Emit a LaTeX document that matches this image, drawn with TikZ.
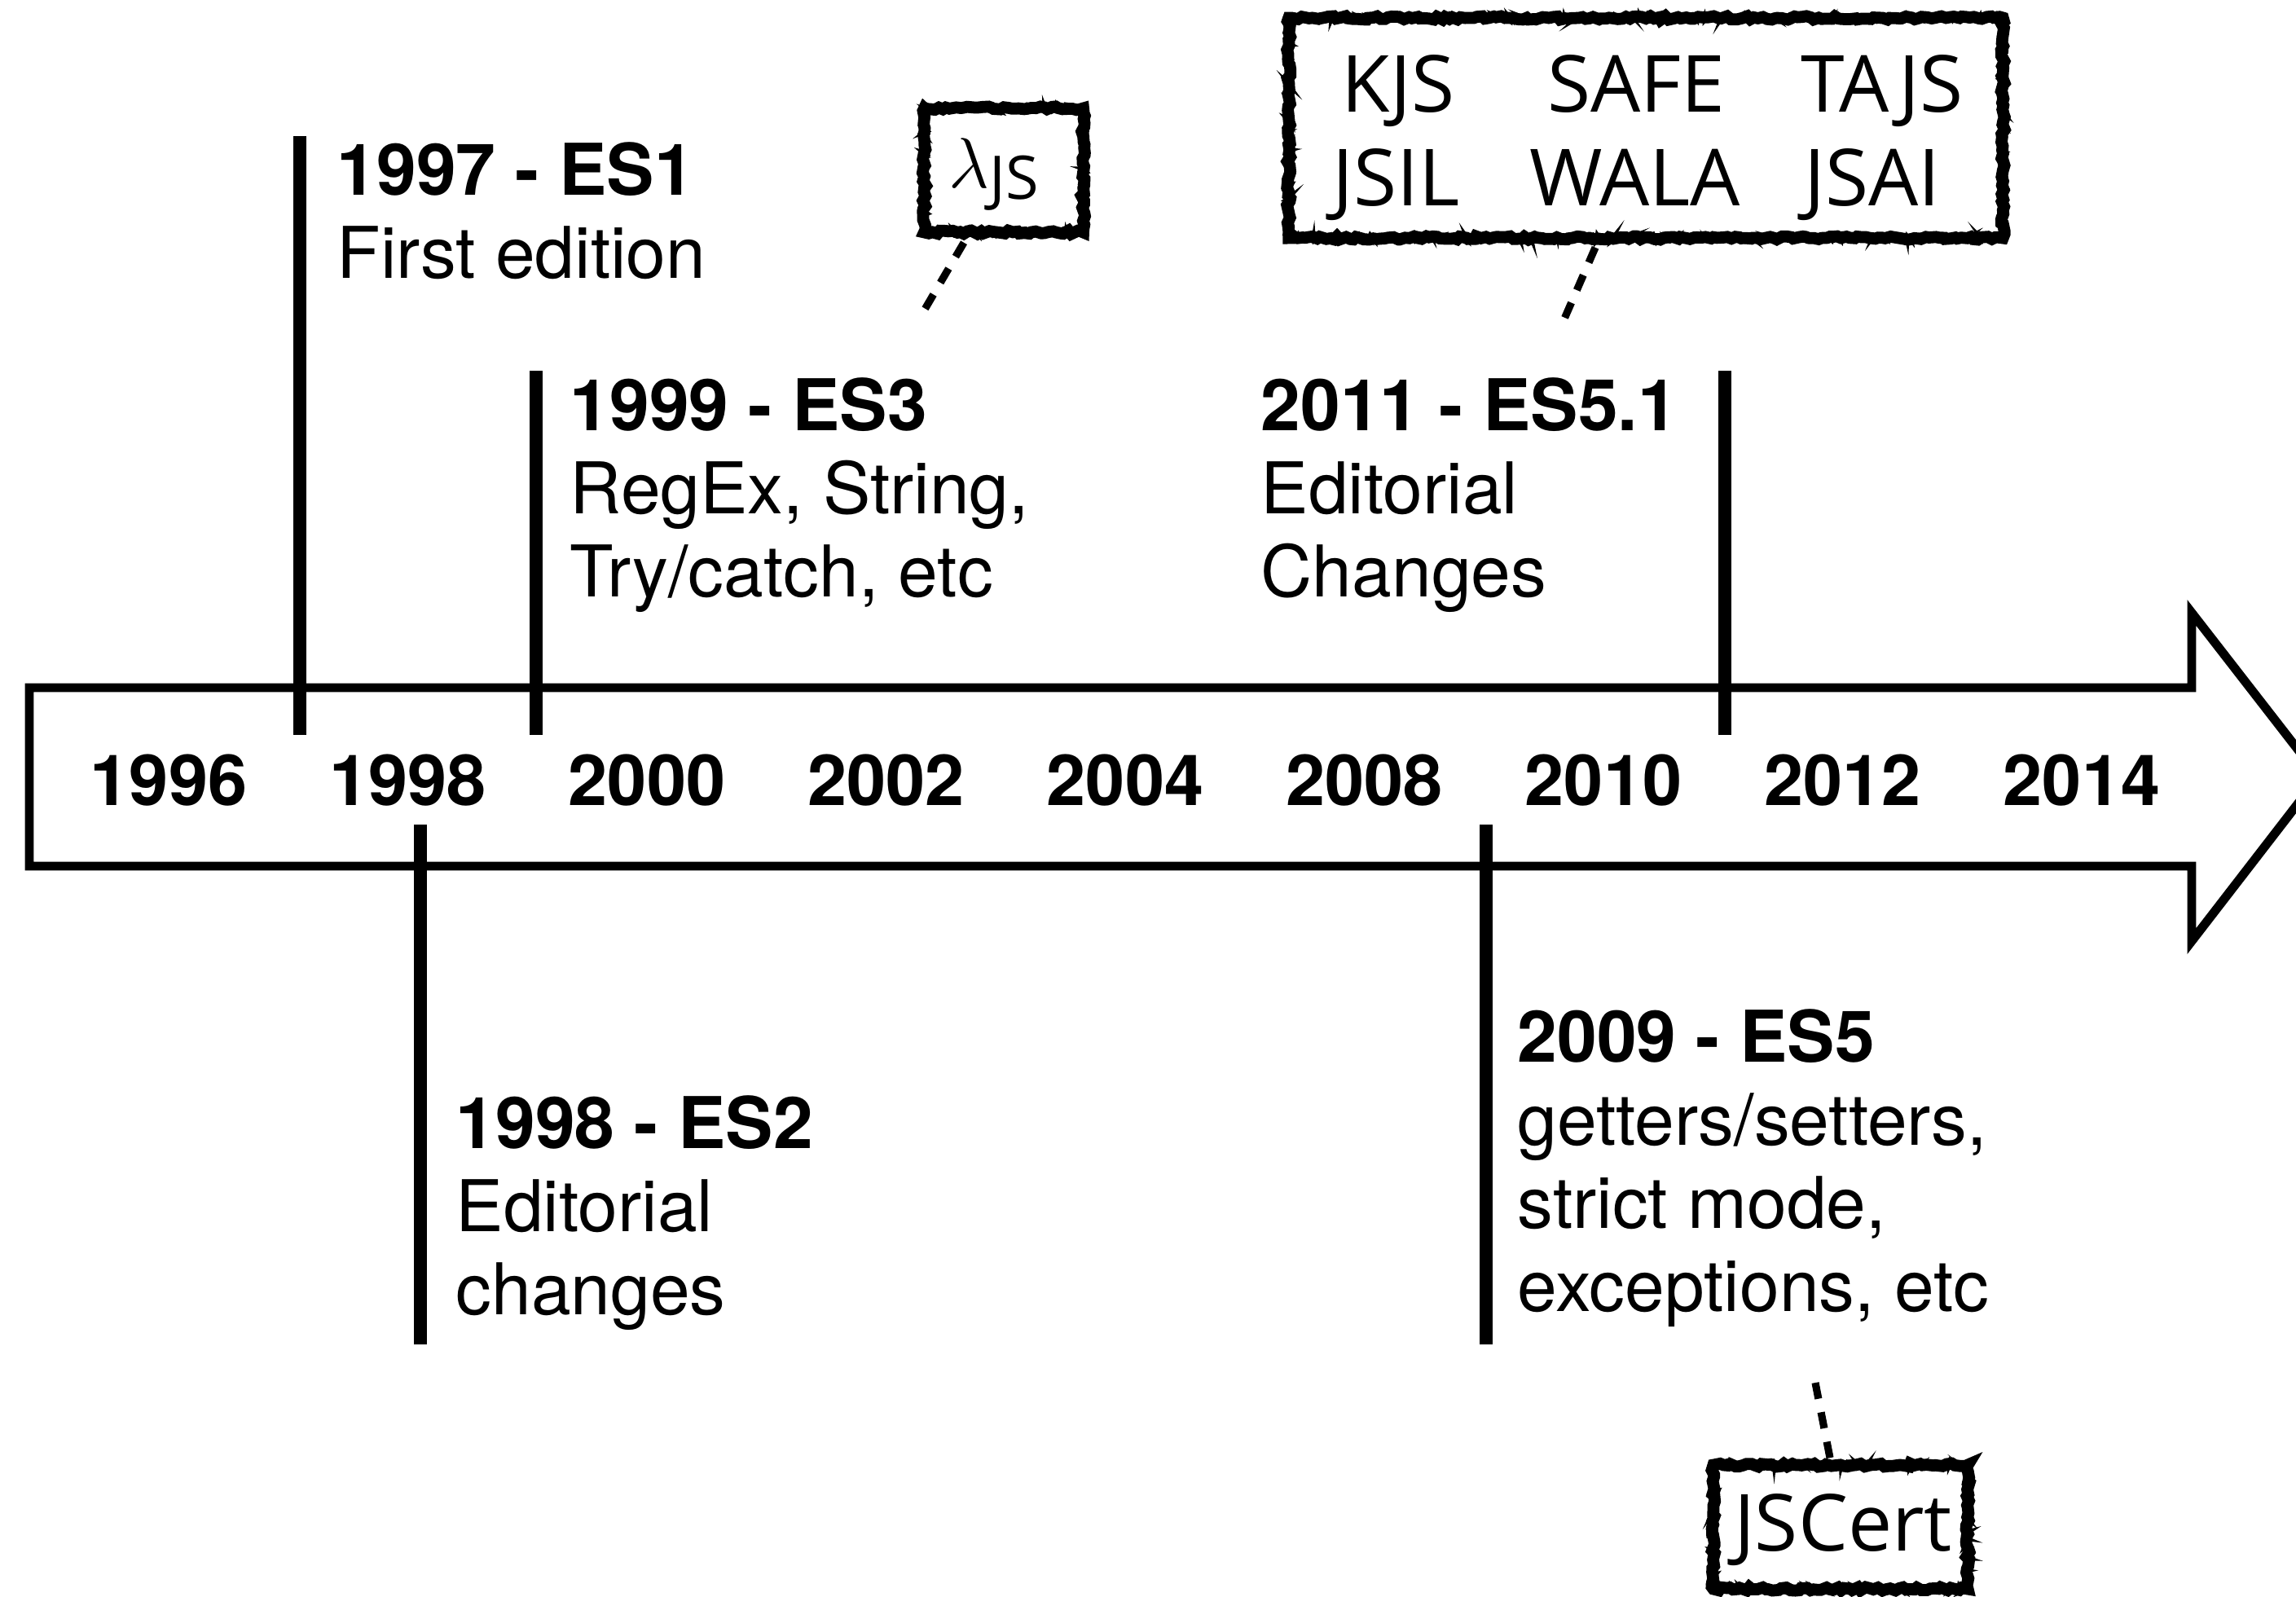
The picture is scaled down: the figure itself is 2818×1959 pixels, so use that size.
\documentclass[tikz,border=0pt]{standalone}
\usepackage{fontspec}
\setmainfont{TeX Gyre Heros}
\newfontfamily\boxfont{Open Sans}
\usetikzlibrary{decorations.pathmorphing,calc}

\begin{document}
\begin{tikzpicture}[x=0.01cm,y=-0.01cm]
        \tikzset{year/.style = {inner sep=0, font=\fontsize{24.6}{29}\selectfont\bfseries}}
        \tikzset{release/.style = {anchor=north west, align=left, inner sep=0, font=\fontsize{24.9}{29}\selectfont}}
        \tikzset{bar/.style = {line width=4.3pt}}
        \tikzset{sketchbox/.style = {inner sep=0,
            postaction={draw, line width=4.2pt, decorate, decoration={random steps, segment length=1.4pt, amplitude=0.6pt}},
            postaction={draw, line width=1.2pt, decorate, decoration={random steps, segment length=1pt, amplitude=1.5pt}}}}
        \tikzset{tool/.style = {anchor=base, inner sep=0, font=\boxfont\fontsize{27.5}{30}\selectfont}}
        \tikzset{leader/.style = {line width=2.6pt, dash pattern=on 5.7pt off 4.8pt}}
        \pgfmathsetseed{42}
        \useasboundingbox (0,0) rectangle (2818,1959);
        \clip (0,0) rectangle (2818,1959);
        % timeline arrow
        \draw[line width=3.1pt] (36,844) -- (2690,844) -- (2690,752) -- (2846,953)
            -- (2690,1155) -- (2690,1063) -- (36,1063) -- cycle;
        \foreach \yr [count=\i from 0] in {1996,1998,2000,2002,2004,2008,2010,2012,2014}
            \node[year] (y\yr) at (207+293.5*\i,958) {\yr};
        % releases
        \draw[bar] (368,167) -- (368,902);
        \node[release] (es1) at (413,174) {\textbf{1997 - ES1}\\First edition};
        \draw[bar] (658,455) -- (658,902);
        \node[release] (es3) at (699,463) {\textbf{1999 - ES3}\\RegEx, String,\\Try/catch, etc};
        \draw[bar] (2117,455) -- (2117,902);
        \node[release] (es51) at (1547,463) {\textbf{2011 - ES5.1}\\Editorial\\Changes};
        \draw[bar] (516,1012) -- (516,1650);
        \node[release] (es2) at (559,1344) {\textbf{1998 - ES2}\\Editorial\\changes};
        \draw[bar] (1824,1012) -- (1824,1650);
        \node[release] (es5) at (1862,1238) {\textbf{2009 - ES5}\\getters/setters,\\strict mode,\\exceptions, etc};
        % tool boxes
        \node[sketchbox, minimum width=1.95cm, minimum height=1.52cm] (ljs) at (1232,209) {};
        \node[tool, anchor=base west] (ljstext) at (1164,230)
            {\fontsize{31}{32}\selectfont$\lambda$\raisebox{-4pt}{\fontsize{21}{22}\selectfont JS}};
        \node[sketchbox, minimum width=8.76cm, minimum height=2.70cm] (tools) at (2020,157) {};
        \node[tool] (kjs) at (1716,137) {KJS};
        \node[tool] (safe) at (2008,137) {SAFE};
        \node[tool] (tajs) at (2310,137) {TAJS};
        \node[tool] (jsil) at (1714,252) {JSIL};
        \node[tool] (wala) at (2007,252) {WALA};
        \node[tool] (jsai) at (2298,252) {JSAI};
        \node[sketchbox, minimum width=3.12cm, minimum height=1.52cm] (jscert) at (2259,1874) {};
        \node[tool] (jscerttext) at (2262,1903) {JSCert};
        % leaders
        \coordinate (ljsend) at (1133,383);
        \coordinate (toolsend) at (1914,405);
        \coordinate (jscertend) at (2228,1697);
        \draw[leader] ($(ljs.south)+(-49,12)$) -- (ljsend);
        \draw[leader] ($(tools.south)+(-62,11)$) -- (toolsend);
        \draw[leader] (jscertend) -- ($(jscert.north)+(-13,-8)$);
\end{tikzpicture}
\end{document}
